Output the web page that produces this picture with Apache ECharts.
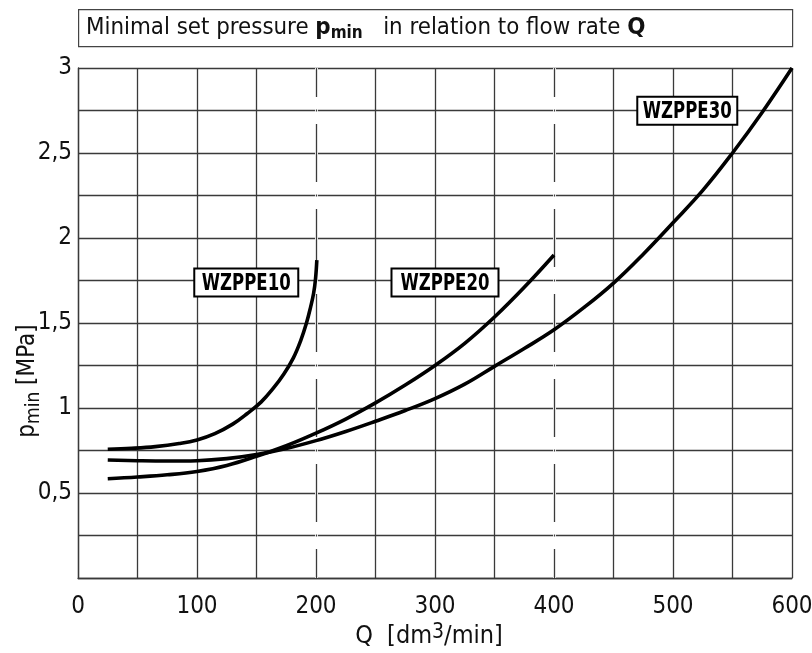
<!DOCTYPE html>
<html><head><meta charset="utf-8">
<script src="https://cdn.jsdelivr.net/npm/echarts@6/dist/echarts.min.js"></script>
<style>html,body{margin:0;padding:0;background:#fff}#c{width:812px;height:653px}</style>
</head><body><div id="c"></div>
<script>
const FONT = '"DejaVu Sans Condensed","DejaVu Sans",sans-serif';

const seriesNames = ['WZPPE10', 'WZPPE20', 'WZPPE30'];
const q10 = [25, 45, 65, 85, 100, 115, 130, 142, 154, 164, 173, 181, 187, 192, 195.5, 198, 199.6, 200.7];
const p10 = [0.757, 0.763, 0.773, 0.791, 0.812, 0.849, 0.905, 0.966, 1.036, 1.115, 1.2, 1.295, 1.394, 1.5, 1.595, 1.675, 1.76, 1.87];
const q20 = [25, 50, 75, 100, 125, 150, 175, 200, 225, 250, 275, 300, 325, 350, 375, 400];
const p20 = [0.584, 0.594, 0.607, 0.627, 0.662, 0.716, 0.778, 0.852, 0.935, 1.03, 1.135, 1.25, 1.38, 1.535, 1.71, 1.9];
const q30 = [25, 50, 75, 100, 125, 150, 175, 200, 225, 250, 275, 300, 325, 350, 375, 400, 425, 450, 475, 500, 525, 550, 575, 600];
const p30 = [0.694, 0.69, 0.688, 0.69, 0.702, 0.726, 0.762, 0.808, 0.862, 0.922, 0.985, 1.055, 1.14, 1.245, 1.35, 1.46, 1.59, 1.735, 1.905, 2.09, 2.28, 2.5, 2.74, 3.0];
const dashedQ = [200, 400];
const labelAnchors = [[141.4, 1.738], [308.4, 1.738], [512, 2.748]];
const labelBoxW = [104, 107, 100];

const zip = (a, b) => a.map((v, i) => [v, b[i]]);
const curves = [zip(q10, p10), zip(q20, p20), zip(q30, p30)];

const chart = echarts.init(document.getElementById('c'), null, {renderer: 'canvas'});
const gridColor = '#3a3a3a';

const curveSeries = curves.map((d, i) => ({
  name: seriesNames[i], type: 'line', data: d, smooth: 0.4,
  showSymbol: false, symbol: 'none',
  z: 5, lineStyle: {color: '#000', width: 3.6}, silent: true, animation: false
}));

const baseGraphic = [
  {
    id: 'titleBox', type: 'rect', left: 78, top: 9, z: 20,
    shape: {width: 714, height: 37},
    style: {fill: '#fff', stroke: '#444', lineWidth: 1.2}
  },
  {
    id: 'titleText', type: 'text', x: 86, y: 27.5, z: 21,
    style: {
      text: '{r|Minimal set pressure }{b|p}{bs|min}{r|   in relation to flow rate }{b|Q}',
      verticalAlign: 'middle', align: 'left',
      rich: {
        r: {fontFamily: FONT, fontSize: 23.8, fill: '#111'},
        b: {fontFamily: FONT, fontSize: 23.8, fontWeight: 'bold', fill: '#111'},
        bs: {fontFamily: FONT, fontSize: 17, fontWeight: 'bold', fill: '#111', padding: [12, 0, 0, 0]}
      }
    }
  },
  {
    id: 'yName', type: 'text', x: 28, y: 381, rotation: Math.PI / 2, z: 21,
    style: {
      text: '{r|p}{s|min}{r| [MPa]}',
      align: 'center', verticalAlign: 'middle',
      rich: {
        r: {fontFamily: FONT, fontSize: 24, fill: '#111'},
        s: {fontFamily: FONT, fontSize: 19, fill: '#111', padding: [13, 0, 0, 0]}
      }
    }
  },
  {
    id: 'xName', type: 'text', x: 429, y: 636, z: 21,
    style: {
      text: '{r|Q  [dm}{u|3}{r|/min]}',
      align: 'center', verticalAlign: 'middle',
      rich: {
        r: {fontFamily: FONT, fontSize: 25, fill: '#111'},
        u: {fontFamily: FONT, fontSize: 21, fill: '#111', padding: [0, 0, 7, 0]}
      }
    }
  }
];

const option = {
  animation: false,
  backgroundColor: '#fff',
  grid: {left: 78, right: 20, top: 68, bottom: 75, containLabel: false, outerBoundsMode: 'none'},
  xAxis: {
    type: 'value', min: 0, max: 600, interval: 50,
    axisLine: {show: true, lineStyle: {color: gridColor, width: 1.3}},
    axisTick: {show: false},
    axisLabel: {
      margin: 17, color: '#111', fontFamily: FONT, fontSize: 24,
      formatter: v => (v % 100 === 0 ? String(v) : '')
    },
    splitLine: {show: true, lineStyle: {color: gridColor, width: 1.3}}
  },
  yAxis: {
    type: 'value', min: 0, max: 3, interval: 0.25,
    axisLine: {show: true, lineStyle: {color: gridColor, width: 1.3}},
    axisTick: {show: false},
    axisLabel: {
      margin: 6, color: '#111', fontFamily: FONT, fontSize: 24,
      formatter: v => (v > 0 && Math.abs(v * 2 - Math.round(v * 2)) < 1e-6 ? String(v).replace('.', ',') : '')
    },
    splitLine: {show: true, lineStyle: {color: gridColor, width: 1.3}}
  },
  series: [
    {
      type: 'line', data: [], z: 2, silent: true,
      markLine: {
        silent: true, symbol: 'none', label: {show: false}, animation: false,
        lineStyle: {color: '#fff', width: 3, type: 'solid'},
        data: dashedQ.map(q => ({xAxis: q}))
      }
    },
    {
      type: 'line', data: [], z: 3, silent: true,
      markLine: {
        silent: true, symbol: 'none', label: {show: false}, animation: false,
        lineStyle: {color: gridColor, width: 1.3, type: [58, 12.5, 2, 12.5], dashOffset: 29},
        data: dashedQ.map(q => ({xAxis: q}))
      }
    },
    ...curveSeries
  ],
  graphic: baseGraphic
};
chart.setOption(option);

const labelGraphic = labelAnchors.map((a, i) => {
  const [px, py] = chart.convertToPixel({gridIndex: 0}, a);
  const w = labelBoxW[i], h = 28;
  return {
    id: 'lbl' + i, type: 'group', x: px, y: py, z: 30,
    children: [
      {type: 'rect', z: 30, shape: {x: -w / 2, y: -h / 2, width: w, height: h},
       style: {fill: '#fff', stroke: '#000', lineWidth: 2}},
      {type: 'text', z: 31, x: 0, y: 1, scaleX: 0.8,
       style: {text: seriesNames[i], fontFamily: FONT, fontWeight: 'bold', fontSize: 23,
               fill: '#000', align: 'center', verticalAlign: 'middle'}}
    ]
  };
});
chart.setOption({graphic: baseGraphic.concat(labelGraphic)});
</script>
</body></html>
